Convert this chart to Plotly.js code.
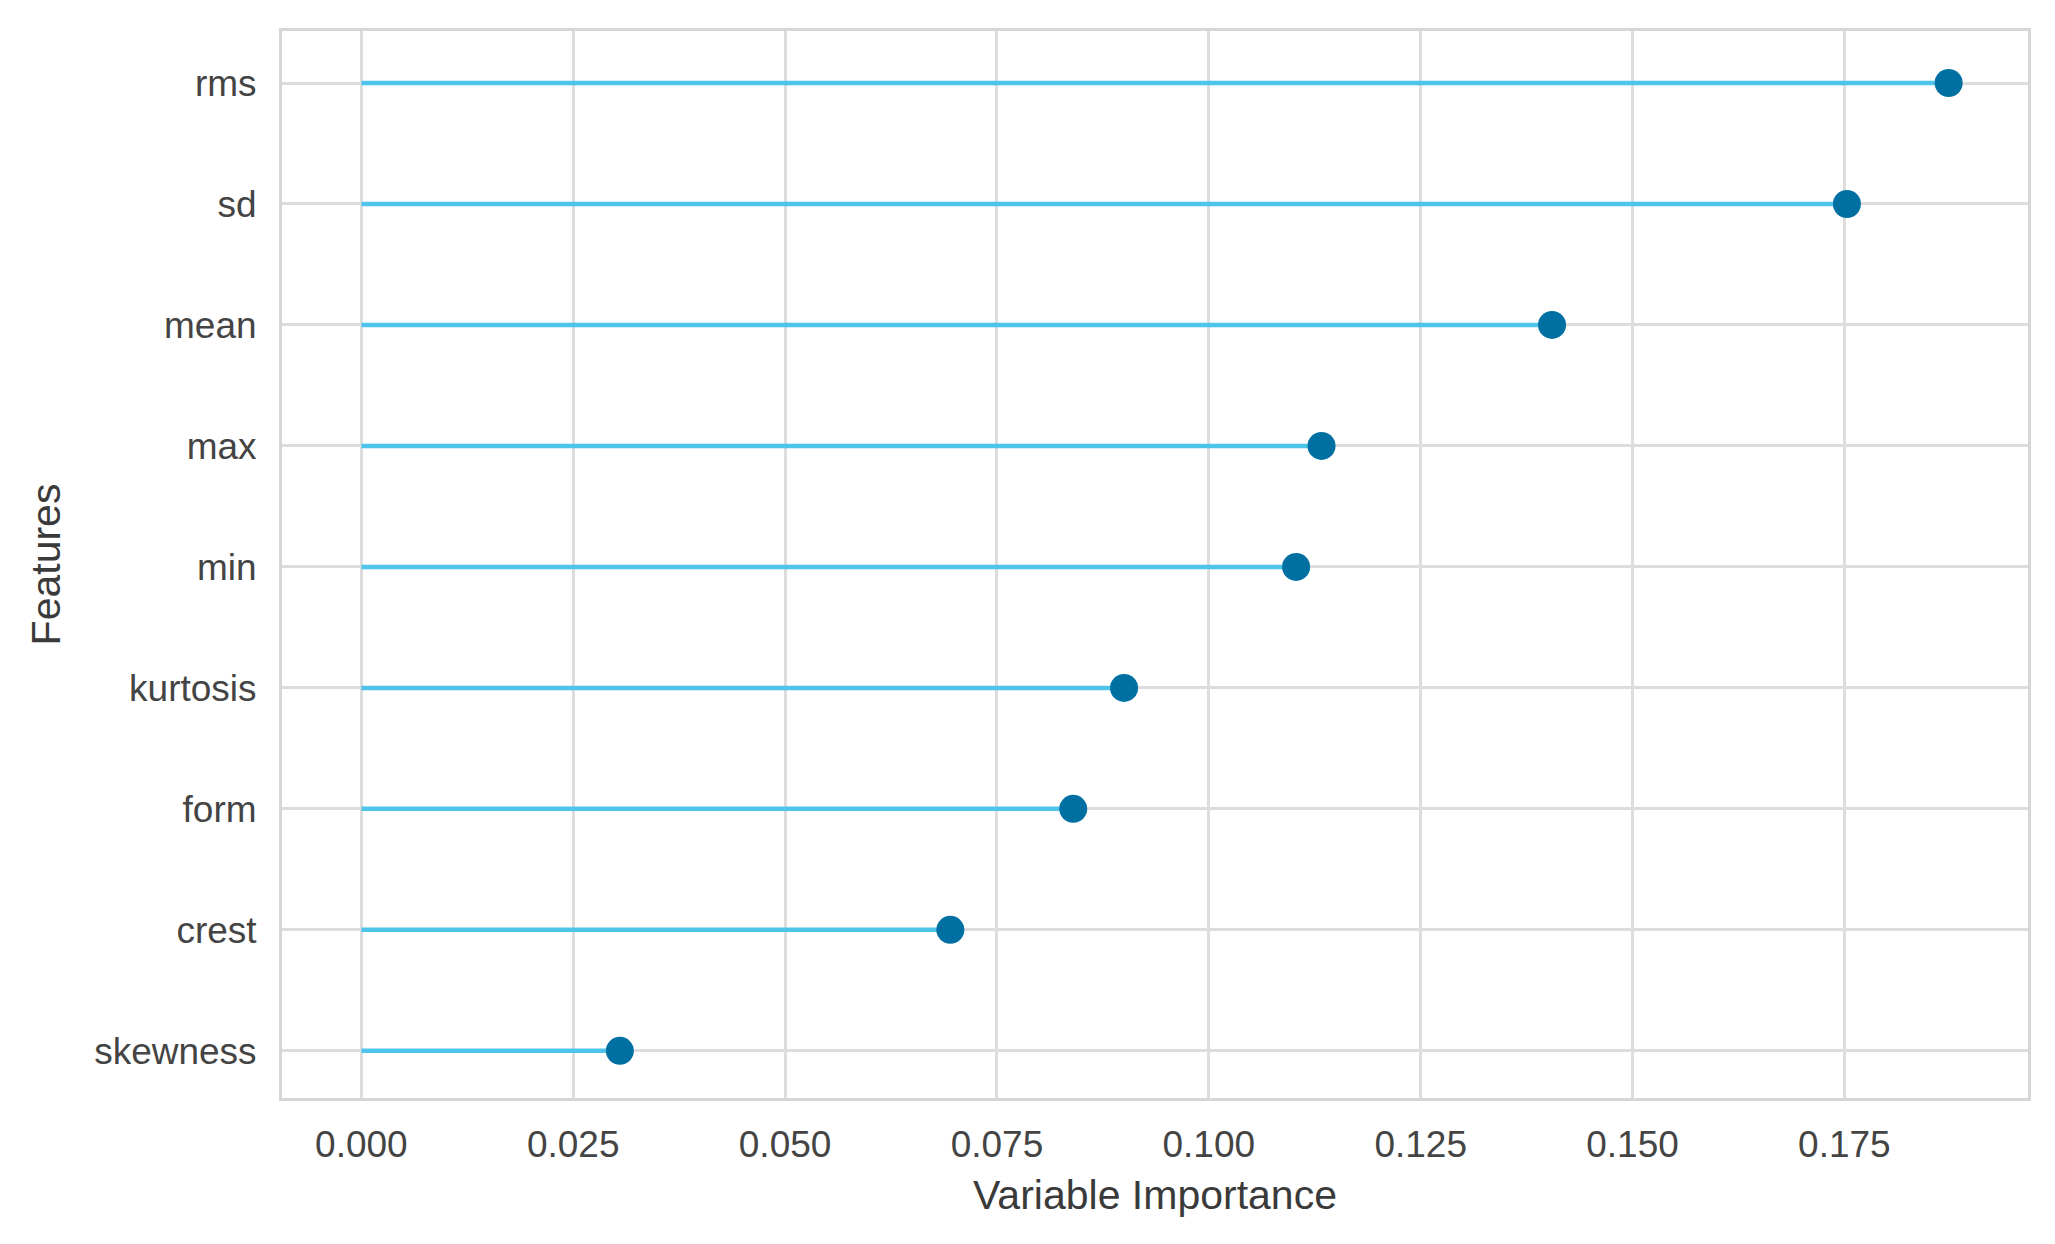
<!DOCTYPE html>
<html>
<head>
<meta charset="utf-8">
<script src="https://cdn.plot.ly/plotly-3.0.1.min.js"></script>
<style>
html,body{margin:0;padding:0;background:#fff;}
#chart{width:2055px;height:1244px;}
</style>
</head>
<body>
<div id="chart"></div>
<script>
const features = ["rms", "sd", "mean", "max", "min", "kurtosis", "form", "crest", "skewness"];
const importance = [0.1873, 0.1753, 0.1405, 0.1133, 0.1103, 0.0900, 0.0840, 0.0695, 0.0305];
const xTickVals = [0, 0.025, 0.05, 0.075, 0.1, 0.125, 0.15, 0.175];
const xTickText = ["0.000", "0.025", "0.050", "0.075", "0.100", "0.125", "0.150", "0.175"];

const stemX = [], stemY = [];
features.forEach((f, i) => {
  stemX.push(0, importance[i], null);
  stemY.push(f, f, null);
});

const maxV = Math.max(...importance);

const traces = [
  {
    type: "scatter", mode: "lines",
    x: stemX, y: stemY,
    line: {color: "#4fc4ea", width: 4.5},
    hoverinfo: "skip", showlegend: false
  },
  {
    type: "scatter", mode: "markers",
    x: importance, y: features,
    marker: {color: "#0070a3", size: 28, line: {width: 0}},
    showlegend: false
  }
];

const font = {family: "Liberation Sans, Arial, sans-serif", color: "#3a3a3a"};

const layout = {
  width: 2055, height: 1244,
  margin: {l: 282, r: 27, t: 31, b: 146},
  paper_bgcolor: "#ffffff", plot_bgcolor: "#ffffff",
  font: font,
  showlegend: false,
  xaxis: {
    range: [-0.05 * maxV, 1.05 * maxV],
    tickvals: xTickVals, ticktext: xTickText,
    tickfont: {size: 37, color: "#444444"},
    showgrid: true, gridcolor: "#dddddd", gridwidth: 2.5,
    zeroline: false,
    showline: true, linecolor: "#d6d6d6", linewidth: 3, mirror: true,
    ticks: "", ticklabelstandoff: 12,
    title: {text: "Variable Importance", font: {size: 41, color: "#3a3a3a"}, standoff: 16}
  },
  yaxis: {
    type: "category",
    categoryorder: "array", categoryarray: features.slice().reverse(),
    range: [-0.39, features.length - 1 + 0.43],
    tickfont: {size: 37, color: "#444444"},
    showgrid: true, gridcolor: "#dddddd", gridwidth: 2.5,
    zeroline: false,
    showline: true, linecolor: "#d6d6d6", linewidth: 3, mirror: true,
    ticks: "", ticklabelstandoff: 15,
    title: {text: "Features", font: {size: 41, color: "#3a3a3a"}, standoff: 21}
  }
};

Plotly.newPlot("chart", traces, layout, {displayModeBar: false, responsive: false});
</script>
</body>
</html>
